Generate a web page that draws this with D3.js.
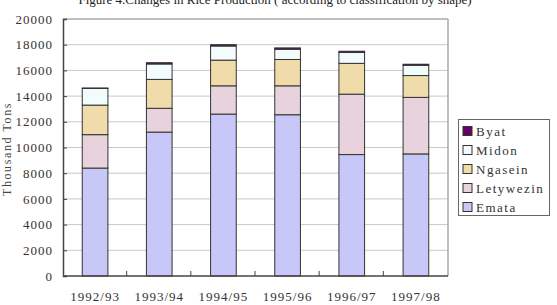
<!DOCTYPE html>
<html>
<head>
<meta charset="utf-8">
<script src="https://cdn.jsdelivr.net/npm/d3@7"></script>
<style>
  body { margin: 0; background: #fff; }
  svg { display: block; }
  .mono { font-family: "Liberation Serif", "DejaVu Serif", serif; letter-spacing: 1px; }
</style>
</head>
<body>
<div id="chartContainer"></div>
<script>
// chart data
const years = ["1992/93", "1993/94", "1994/95", "1995/96", "1996/97", "1997/98"];
const seriesNames = ["Emata", "Letywezin", "Ngasein", "Midon", "Byat"];
const emata     = [8400, 11200, 12600, 12550, 9450, 9500];
const letywezin = [2600, 1850, 2200, 2250, 4700, 4400];
const ngasein   = [2300, 2250, 2000, 2050, 2400, 1700];
const midon     = [1300, 1200, 1100, 800, 850, 800];
const byat      = [30, 100, 100, 100, 90, 80];
const yTicks = [0, 2000, 4000, 6000, 8000, 10000, 12000, 14000, 16000, 18000, 20000];

const colors = {
    Emata: "#c8c8f8",
    Letywezin: "#e8d2dc",
    Ngasein: "#f0dcaa",
    Midon: "#f2fcfc",
    Byat: "#660066"
};

function init() {
    const W = 557, H = 305;
    const plot = { left: 63, right: 448, top: 19, bottom: 276 };

    const svg = d3.select("#chartContainer").append("svg")
        .attr("width", W)
        .attr("height", H);

    // build rows for the stack
    const rows = years.map((y, i) => ({
        year: y,
        Emata: emata[i],
        Letywezin: letywezin[i],
        Ngasein: ngasein[i],
        Midon: midon[i],
        Byat: byat[i]
    }));
    const stacked = d3.stack().keys(seriesNames)(rows);

    const x = d3.scaleBand()
        .domain(years)
        .range([plot.left, plot.right])
        .paddingInner(0.6)
        .paddingOuter(0.3);

    const y = d3.scaleLinear()
        .domain([0, 20000])
        .range([plot.bottom, plot.top]);

    // title (cut off at the top like the reference)
    svg.append("text")
        .attr("x", 275)
        .attr("y", 4)
        .attr("text-anchor", "middle")
        .style("font-family", "'Liberation Serif', 'Times New Roman', serif")
        .style("font-size", "13px")
        .style("fill", "#222")
        .text("Figure 4.Changes in Rice Production ( according to classification by shape)");

    // gridlines
    svg.append("g")
        .selectAll("line")
        .data(yTicks.filter(t => t > 0 && t < 20000))
        .enter()
        .append("line")
        .attr("x1", plot.left)
        .attr("x2", plot.right)
        .attr("y1", d => y(d))
        .attr("y2", d => y(d))
        .style("stroke", "#c8c8c8")
        .style("stroke-width", 1);

    // plot frame: top and right lighter
    svg.append("line")
        .attr("x1", plot.left).attr("x2", plot.right)
        .attr("y1", plot.top).attr("y2", plot.top)
        .style("stroke", "#a8a8a8").style("stroke-width", 1.5);
    svg.append("line")
        .attr("x1", plot.right).attr("x2", plot.right)
        .attr("y1", plot.top).attr("y2", plot.bottom)
        .style("stroke", "#a8a8a8").style("stroke-width", 1.5);

    // bars
    svg.append("g")
        .selectAll("g")
        .data(stacked)
        .enter()
        .append("g")
        .style("fill", d => colors[d.key])
        .selectAll("rect")
        .data(d => d)
        .enter()
        .append("rect")
        .attr("x", d => x(d.data.year))
        .attr("width", x.bandwidth())
        .attr("y", d => y(d[1]))
        .attr("height", d => y(d[0]) - y(d[1]))
        .style("stroke", "#333")
        .style("stroke-width", 1);

    // y axis
    const yAxis = svg.append("g")
        .attr("transform", `translate(${plot.left}, 0)`)
        .call(d3.axisRight(y).tickValues(yTicks).tickSize(4).tickFormat(d => d));
    yAxis.select(".domain").style("stroke", "#444").style("stroke-width", 1.5);
    yAxis.selectAll(".tick line").style("stroke", "#444");
    yAxis.selectAll("text")
        .attr("class", "mono")
        .attr("x", -10)
        .style("text-anchor", "end")
        .style("font-size", "13px")
        .style("fill", "#333");

    // x axis with ticks between categories pointing up
    const step = x.step();
    const xAxisG = svg.append("g")
        .attr("transform", `translate(0, ${plot.bottom})`);
    xAxisG.append("line")
        .attr("x1", plot.left).attr("x2", plot.right)
        .style("stroke", "#444").style("stroke-width", 1.5);
    xAxisG.selectAll(".sep")
        .data(years.slice(1))
        .enter()
        .append("line")
        .attr("class", "sep")
        .attr("x1", d => x(d) - step * x.paddingInner() / 2 - 0.5)
        .attr("x2", d => x(d) - step * x.paddingInner() / 2 - 0.5)
        .attr("y1", 0)
        .attr("y2", -5)
        .style("stroke", "#444");
    xAxisG.selectAll(".lbl")
        .data(years)
        .enter()
        .append("text")
        .attr("class", "lbl mono")
        .attr("x", d => x(d) + x.bandwidth() / 2)
        .attr("y", 25)
        .attr("text-anchor", "middle")
        .style("font-size", "13px")
        .style("fill", "#333")
        .text(d => d);

    // y axis title
    svg.append("text")
        .attr("class", "mono")
        .attr("transform", "rotate(-90)")
        .attr("x", -149)
        .attr("y", 11)
        .attr("text-anchor", "middle")
        .style("font-size", "12px")
        .style("letter-spacing", "1.6px")
        .style("fill", "#444")
        .text("Thousand Tons");

    // legend
    const legend = svg.append("g");
    legend.append("rect")
        .attr("x", 458.5).attr("y", 119.5)
        .attr("width", 91).attr("height", 96)
        .style("fill", "#fff")
        .style("stroke", "#666");
    const legendOrder = seriesNames.slice().reverse();
    const item = legend.selectAll(".item")
        .data(legendOrder)
        .enter()
        .append("g")
        .attr("class", "item")
        .attr("transform", (d, i) => `translate(463, ${131 + i * 19})`);
    item.append("rect")
        .attr("x", 0).attr("y", -4.5)
        .attr("width", 9).attr("height", 9)
        .style("fill", d => colors[d])
        .style("stroke", "#333");
    item.append("text")
        .attr("class", "mono")
        .attr("x", 13)
        .attr("y", 4.5)
        .style("font-size", "13px")
        .style("letter-spacing", "1.5px")
        .style("fill", "#333")
        .text(d => d);
}
window.onload = init;
</script>
</body>
</html>
